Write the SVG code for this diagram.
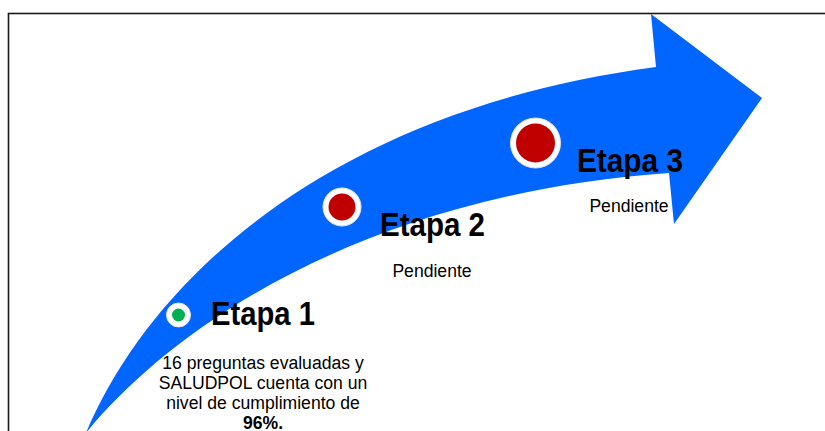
<svg xmlns="http://www.w3.org/2000/svg" width="825" height="431" viewBox="0 0 825 431">
<style>
.frame{fill:none;stroke:#1a1a1a;stroke-width:1.6}
.arrow{fill:#0066FF}
.ring{fill:#FFFFFF;stroke:#E2E2E2;stroke-width:1}
.title{font-family:"Liberation Sans",Arial,sans-serif;font-weight:bold;font-size:34px;fill:#000}
.body{font-family:"Liberation Sans",Arial,sans-serif;font-size:17.6px;fill:#000;text-anchor:middle}
.bold{font-weight:bold}
</style>
<rect width="825" height="431" fill="#FFFFFF"/>
<rect class="frame" x="8.5" y="13.5" width="830" height="430"/>
<g id="connectors">
<path id="arrow" class="arrow" d="M 86 433 C 150 280, 330 110, 656 67 L 651 14 L 762 98 L 674 224 L 669 173 C 360 195, 170 330, 86 433 Z"/>
</g>
<g id="etapa1">
<circle class="ring" cx="178.5" cy="315" r="12"/>
<circle cx="178.5" cy="315" r="6.5" fill="#00B050"/>
<text class="title" x="211" y="325" textLength="104" lengthAdjust="spacingAndGlyphs">Etapa 1</text>
<text class="body" x="263" y="369">16 preguntas evaluadas y</text>
<text class="body" x="263" y="389">SALUDPOL cuenta con un</text>
<text class="body" x="263" y="409">nivel de cumplimiento de</text>
<text class="body bold" x="263" y="428.5">96%.</text>
</g>
<g id="etapa2">
<circle class="ring" cx="342" cy="207" r="19"/>
<circle cx="342" cy="207" r="13.5" fill="#C00000"/>
<text class="title" x="380" y="236" textLength="105" lengthAdjust="spacingAndGlyphs">Etapa 2</text>
<text class="body" x="432" y="277">Pendiente</text>
</g>
<g id="etapa3">
<circle class="ring" cx="535.5" cy="143" r="25"/>
<circle cx="535.5" cy="143" r="19.5" fill="#C00000"/>
<text class="title" x="577" y="172" textLength="106" lengthAdjust="spacingAndGlyphs">Etapa 3</text>
<text class="body" x="629" y="212">Pendiente</text>
</g>
</svg>
